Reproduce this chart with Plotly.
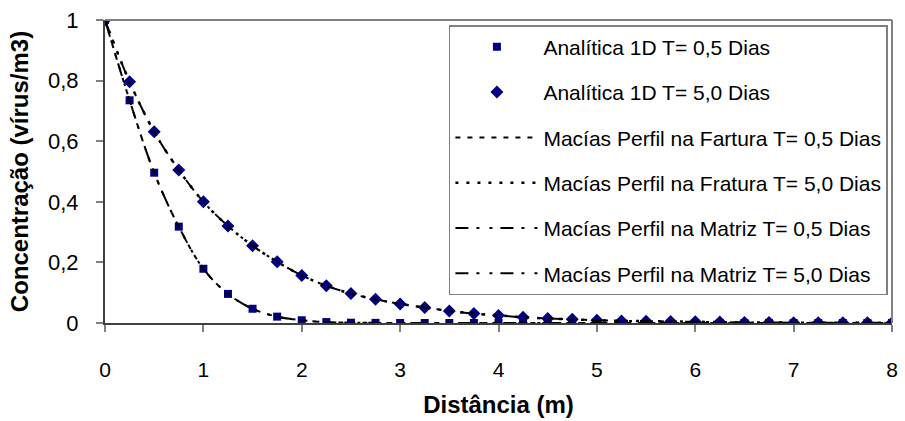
import plotly.graph_objects as go

# distance along the fracture (m)
dist = [0, 0.25, 0.5, 0.75, 1, 1.25, 1.5, 1.75, 2, 2.25, 2.5, 2.75, 3, 3.25, 3.5, 3.75,
        4, 4.25, 4.5, 4.75, 5, 5.25, 5.5, 5.75, 6, 6.25, 6.5, 6.75, 7, 7.25, 7.5, 7.75, 8]

# analytical 1D solution
analit_05 = [1.0, 0.735, 0.496, 0.318, 0.179, 0.096, 0.047, 0.021, 0.009, 0.003, 0.001, 0.0005,
             0, 0, 0, 0, 0, 0, 0, 0, 0, 0, 0, 0, 0, 0, 0, 0, 0, 0, 0, 0, 0]
analit_50 = [1.0, 0.796, 0.631, 0.505, 0.400, 0.320, 0.255, 0.202, 0.157, 0.123, 0.097, 0.078,
             0.063, 0.051, 0.040, 0.031, 0.025, 0.019, 0.015, 0.012, 0.009, 0.007, 0.006, 0.005,
             0.004, 0.003, 0.002, 0.002, 0.001, 0.001, 0.001, 0.001, 0.001]

# Macías profiles (fracture and matrix)
macias_frat_05 = [1.0, 0.735, 0.496, 0.318, 0.179, 0.096, 0.047, 0.021, 0.009, 0.003, 0.001, 0.0005,
                  0, 0, 0, 0, 0, 0, 0, 0, 0, 0, 0, 0, 0, 0, 0, 0, 0, 0, 0, 0, 0]
macias_frat_50 = [1.0, 0.796, 0.631, 0.505, 0.400, 0.320, 0.255, 0.202, 0.157, 0.123, 0.097, 0.078,
                  0.063, 0.051, 0.040, 0.031, 0.025, 0.019, 0.015, 0.012, 0.009, 0.007, 0.006, 0.005,
                  0.004, 0.003, 0.002, 0.002, 0.001, 0.001, 0.001, 0.001, 0.001]
macias_matr_05 = [1.0, 0.735, 0.496, 0.318, 0.179, 0.096, 0.047, 0.021, 0.009, 0.003, 0.001, 0.0005,
                  0, 0, 0, 0, 0, 0, 0, 0, 0, 0, 0, 0, 0, 0, 0, 0, 0, 0, 0, 0, 0]
macias_matr_50 = [1.0, 0.796, 0.631, 0.505, 0.400, 0.320, 0.255, 0.202, 0.157, 0.123, 0.097, 0.078,
                  0.063, 0.051, 0.040, 0.031, 0.025, 0.019, 0.015, 0.012, 0.009, 0.007, 0.006, 0.005,
                  0.004, 0.003, 0.002, 0.002, 0.001, 0.001, 0.001, 0.001, 0.001]

x_ticks = [0, 1, 2, 3, 4, 5, 6, 7, 8]
y_ticks = [0, 0.2, 0.4, 0.6, 0.8, 1]
y_tick_text = ["0", "0,2", "0,4", "0,6", "0,8", "1"]

FONT = "Liberation Sans, Arial, sans-serif"
NAVY = "#000080"
DASH_MATRIZ = "13px,8px,3px,10px,3px,8px"

fig = go.Figure()

fig.add_trace(go.Scatter(
    x=dist, y=analit_05, mode="markers", name="Analítica 1D T= 0,5 Dias", legendgroup="a",
    marker=dict(symbol="square", size=8, color=NAVY)))
fig.add_trace(go.Scatter(
    x=dist, y=analit_50, mode="markers", name="Analítica 1D T= 5,0 Dias", legendgroup="b",
    marker=dict(symbol="diamond", size=10, color=NAVY)))
fig.add_trace(go.Scatter(
    x=dist, y=macias_frat_05, mode="lines", name="Macías Perfil na Fartura T= 0,5 Dias",
    legendgroup="c", line=dict(color="black", width=2, dash="5px,7px", shape="spline")))
fig.add_trace(go.Scatter(
    x=dist, y=macias_frat_50, mode="lines", name="Macías Perfil na Fratura T= 5,0 Dias",
    legendgroup="d", line=dict(color="black", width=2.5, dash="3px,8px", shape="spline")))
fig.add_trace(go.Scatter(
    x=dist, y=macias_matr_05, mode="lines", name="Macías Perfil na Matriz T= 0,5 Dias",
    legendgroup="e", line=dict(color="black", width=2, dash=DASH_MATRIZ, shape="spline")))
fig.add_trace(go.Scatter(
    x=dist, y=macias_matr_50, mode="lines", name="Macías Perfil na Matriz T= 5,0 Dias",
    legendgroup="f", line=dict(color="black", width=2, dash=DASH_MATRIZ, shape="spline")))

fig.update_layout(
    width=905, height=421,
    margin=dict(l=105, r=7, t=20, b=98),
    paper_bgcolor="white", plot_bgcolor="white",
    font=dict(family=FONT, size=21, color="black"),
    showlegend=True,
    legend=dict(
        x=0.437, y=0.983, xanchor="left", yanchor="top",
        bgcolor="white", bordercolor="#808080", borderwidth=1.5,
        font=dict(family=FONT, size=21, color="black"),
        itemwidth=83, tracegroupgap=15, traceorder="grouped",
    ),
    xaxis=dict(
        range=[0, 8], tickvals=x_ticks, ticktext=[str(v) for v in x_ticks],
        showgrid=False, zeroline=False, showline=True, linecolor="#404040", linewidth=2,
        ticks="outside", ticklen=7, tickwidth=1.5, tickcolor="#808080",
        ticklabelstandoff=20, tickfont=dict(size=21),
        title=dict(text="<b>Distância (m)</b>", font=dict(size=24), standoff=16),
    ),
    yaxis=dict(
        range=[0, 1], tickvals=y_ticks, ticktext=y_tick_text,
        showgrid=False, zeroline=False, showline=True, linecolor="#404040", linewidth=2,
        ticks="outside", ticklen=7, tickwidth=1.5, tickcolor="#808080",
        ticklabelstandoff=13, tickfont=dict(size=22),
        title=dict(text="<b>Concentração (vírus/m3)</b>", font=dict(size=24), standoff=13),
    ),
    shapes=[
        dict(type="line", xref="paper", yref="paper", x0=0, x1=1, y0=1, y1=1,
             line=dict(color="#808080", width=2)),
        dict(type="line", xref="paper", yref="paper", x0=1, x1=1, y0=0, y1=1,
             line=dict(color="#808080", width=2)),
    ],
)

fig.write_html("out.html")
